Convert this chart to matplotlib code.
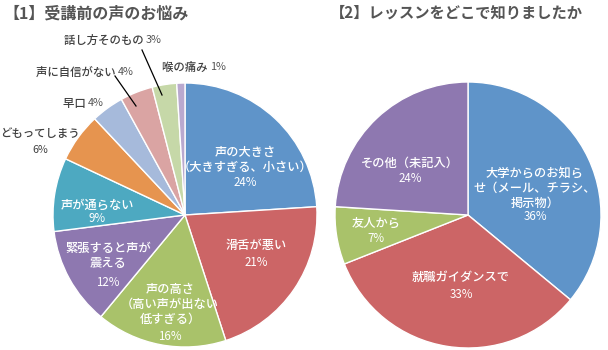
import matplotlib
matplotlib.use("Agg")
import matplotlib.pyplot as plt

plt.rcParams['font.family'] = ['Noto Sans CJK JP', 'DejaVu Sans']

# ---- data ----
title1 = "【1】受講前の声のお悩み"
cats1 = ["声の大きさ\n（大きすぎる、小さい）", "滑舌が悪い", "声の高さ\n（高い声が出ない\n低すぎる）",
         "緊張すると声が\n震える", "声が通らない", "どもってしまう", "早口", "声に自信がない",
         "話し方そのもの", "喉の痛み"]
vals1 = [24, 21, 16, 12, 9, 6, 4, 4, 3, 1]
cols1 = ["#5F94C9", "#CC6566", "#A9C26A", "#8E78B0", "#4DA9C1", "#E6944F",
         "#A6BADB", "#DAA4A3", "#C6D8A8", "#B9A9CF"]

title2 = "【2】レッスンをどこで知りましたか"
cats2 = ["大学からのお知ら\nせ（メール、チラシ、\n掲示物）", "就職ガイダンスで", "友人から", "その他（未記入）"]
vals2 = [36, 33, 7, 24]
cols2 = ["#5F94C9", "#CC6566", "#A9C26A", "#8E78B0"]

W, H = 608, 350
fig = plt.figure(figsize=(W / 100, H / 100), dpi=100)
ax = fig.add_axes([0, 0, 1, 1])

wp = dict(edgecolor="white", linewidth=1.0)
ax.pie(vals1, colors=cols1, startangle=90, counterclock=False, center=(185, H - 215),
       radius=132, wedgeprops=wp)
ax.pie(vals2, colors=cols2, startangle=90, counterclock=False, center=(468, H - 215),
       radius=133, wedgeprops=wp)
ax.set_xlim(0, W)
ax.set_ylim(0, H)
ax.set_aspect('auto')
ax.axis('off')

GRAY = "#555555"
DARK = "#404040"

ax.text(3, H - 13, title1, fontsize=11.5, fontweight='bold', color=GRAY, va='center', ha='left')
ax.text(330, H - 13, title2, fontsize=11.0, fontweight='bold', color=GRAY, va='center', ha='left')

NAME_W = 'medium'


def lab(x, y_name, y_pct, name, pct, color="white", fs=8.8):
    ax.text(x, H - y_name, name, fontsize=fs, fontweight=NAME_W, color=color,
            ha='center', va='center', linespacing=1.2)
    ax.text(x, H - y_pct, f"{pct}%", fontsize=fs - 0.5, color=color, ha='center', va='center')


# pie 1 inner labels
lab(245, 160, 183, cats1[0], vals1[0])
lab(256, 245, 263, cats1[1], vals1[1])
lab(170, 304, 337, cats1[2], vals1[2])
lab(108, 256, 282, cats1[3], vals1[3])
lab(97, 205, 219, cats1[4], vals1[4])
# pie 1 outer labels
lab(40, 133, 150, cats1[5], vals1[5], color=DARK, fs=8.2)


def outer(x, y, name, pct):
    ax.text(x, H - y, name + " ", fontsize=8.2, fontweight=NAME_W, color=DARK, ha='right', va='center')
    ax.text(x, H - y, f"{pct}%", fontsize=7.8, color=GRAY, ha='left', va='center')


outer(88, 103, cats1[6], vals1[6])
outer(118, 72, cats1[7], vals1[7])
outer(146, 40, cats1[8], vals1[8])
outer(210, 67, cats1[9], vals1[9])
ax.plot([115, 136], [H - 76, H - 106], color="black", lw=0.9)
ax.plot([142, 162], [H - 50, H - 95], color="black", lw=0.9)

# pie 2 labels
lab(535, 188, 217, cats2[0], vals2[0])
lab(461, 277, 295, cats2[1], vals2[1])
lab(376, 223, 239, cats2[2], vals2[2])
lab(410, 163, 179, cats2[3], vals2[3])

fig.savefig("out.png", dpi=100)
